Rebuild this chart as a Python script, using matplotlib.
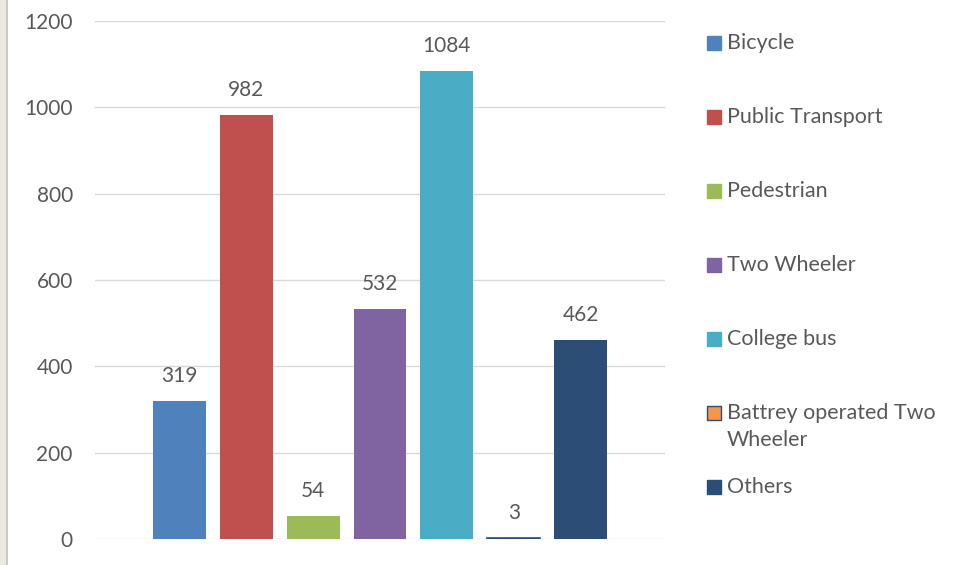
import matplotlib.pyplot as plt
from matplotlib.patches import Rectangle

# Mode of transport counts
modes = ["Bicycle", "Public Transport", "Pedestrian", "Two Wheeler",
         "College bus", "Battrey operated Two\nWheeler", "Others"]
counts = [319, 982, 54, 532, 1084, 3, 462]
colors = ["#4F81BD", "#C0504D", "#9BBB59", "#8064A2", "#4BACC6", "#F79646", "#2C4D75"]
edges = ["none", "none", "none", "none", "none", "#2C4D75", "none"]

plt.rcParams['font.family'] = ['Lato', 'DejaVu Sans']
text_col = "#595959"

fig = plt.figure(figsize=(9.6, 5.65), dpi=100)
ax = fig.add_axes([95 / 960, 1 - 539 / 565, 570 / 960, 518 / 565])

x = list(range(len(modes)))
bars = ax.bar(x, counts, width=0.79, color=colors, edgecolor=edges, linewidth=1.2, zorder=3)

for xi, v in zip(x, counts):
    ax.annotate(str(v), (xi, v), xytext=(0, 18), textcoords="offset points",
                ha="center", va="center", fontsize=15, color=text_col)

ax.set_ylim(0, 1200)
ax.set_xlim(-1.26, 7.26)
ax.set_yticks(range(0, 1201, 200))
ax.tick_params(axis="y", length=0, pad=16, labelsize=15, labelcolor=text_col)
ax.set_xticks([])
ax.grid(axis="y", color="#D9D9D9", linewidth=1, zorder=0)
for s in ax.spines.values():
    s.set_visible(False)

# legend on the right, drawn by hand so the wrapped entry sits like the original
leg_y = [43, 117, 191, 265, 339, 413, 487]
for lbl, c, e, yy in zip(modes, colors, edges, leg_y):
    fig.patches.append(Rectangle((707 / 960, 1 - (yy + 7) / 565), 14 / 960, 14 / 565,
                                 transform=fig.transFigure, facecolor=c,
                                 edgecolor=(e if e != "none" else c), linewidth=1))
    if "\n" in lbl:
        fig.text(727 / 960, 1 - (yy - 10) / 565, lbl, fontsize=15.5, color=text_col,
                 va="top", linespacing=1.45)
    else:
        fig.text(727 / 960, 1 - yy / 565, lbl, fontsize=15.5, color=text_col, va="center")

# beige strip on the left edge
fig.patches.append(Rectangle((0, 0), 6 / 960, 1, transform=fig.transFigure,
                             facecolor="#ECEAE0", edgecolor="none"))
fig.patches.append(Rectangle((6 / 960, 0), 1.5 / 960, 1, transform=fig.transFigure,
                             facecolor="#C9C9C9", edgecolor="none"))

plt.savefig("out.png", dpi=100)
plt.close()
